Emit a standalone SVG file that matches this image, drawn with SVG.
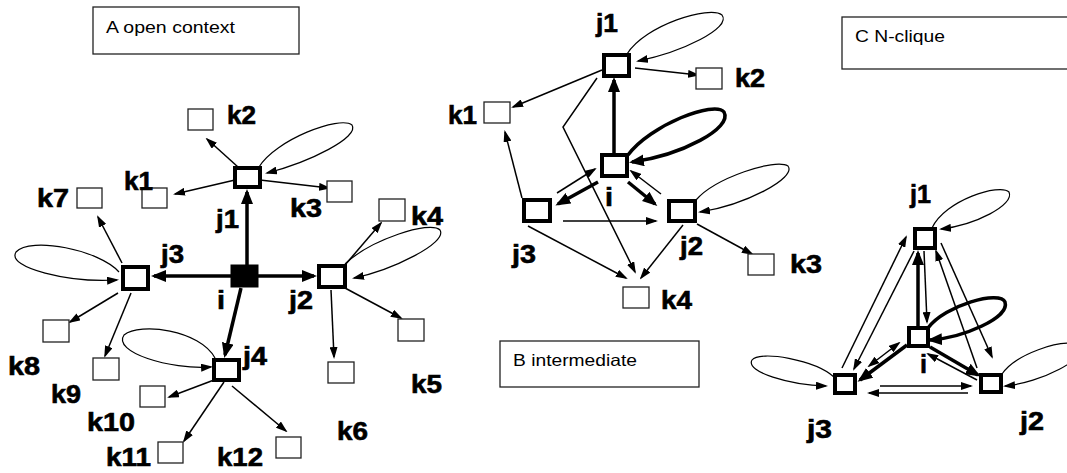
<svg xmlns="http://www.w3.org/2000/svg" width="1067" height="473" viewBox="0 0 1067 473">
<style>
.n{fill:#fff;stroke:#000;stroke-width:4}
.f{fill:#000;stroke:#000;stroke-width:1}
.k{fill:#fff;stroke:#222;stroke-width:1.3}
.t{fill:#fff;stroke:#222;stroke-width:1.3}
.e{fill:none;stroke:#000;stroke-width:1.5;marker-end:url(#m)}
.E{fill:none;stroke:#000;stroke-width:3.5;marker-end:url(#M)}
.l{fill:none;stroke:#000;stroke-width:1.2;marker-end:url(#m)}
.L{fill:none;stroke:#000;stroke-width:3.5;marker-end:url(#M)}
.d{marker-start:url(#m)}
.lb{font-family:"Liberation Sans",Arial,Helvetica,sans-serif;font-weight:bold;font-size:25px;fill:#000;stroke:#000;stroke-width:0.6}
.tt{font-family:"Liberation Sans",Arial,Helvetica,sans-serif;font-size:16.5px;fill:#000}
</style>
<defs>
<marker id="m" markerUnits="userSpaceOnUse" viewBox="0 0 12 8" markerWidth="12" markerHeight="8" refX="10" refY="4" orient="auto-start-reverse"><path d="M0,0 L12,4 L0,8 z" fill="#000"/></marker>
<marker id="M" markerUnits="userSpaceOnUse" viewBox="0 0 15 12" markerWidth="15" markerHeight="12" refX="12" refY="6" orient="auto"><path d="M0,0 L15,6 L0,12 z" fill="#000"/></marker>
</defs>
<rect width="1067" height="473" fill="#fff"/>

<g id="titles">
<g id="title-A"><rect class="t" x="93" y="7" width="206" height="47"/><text class="tt" x="106" y="33" textLength="129" lengthAdjust="spacingAndGlyphs">A open context</text></g>
<g id="title-B"><rect class="t" x="500" y="341" width="199" height="46"/><text class="tt" x="513" y="366" textLength="124" lengthAdjust="spacingAndGlyphs">B intermediate</text></g>
<g id="title-C"><rect class="t" x="842" y="17" width="260" height="52"/><text class="tt" x="855" y="42" textLength="90" lengthAdjust="spacingAndGlyphs">C N-clique</text></g>
</g>

<g id="connectors">
<!-- Panel A -->
<path class="E" d="M247,265 L247,192"/>
<path class="E" d="M231,276 L154,276"/>
<path class="E" d="M258,276 L314,276"/>
<path class="E" d="M241,288 L225,355"/>
<path class="e" d="M238,167 L207,139"/>
<path class="e" d="M235,180 L175,194"/>
<path class="e" d="M260,180 L329,188"/>
<path class="e" d="M122,263 L98,217"/>
<path class="e" d="M118,293 L70,322"/>
<path class="e" d="M131,293 L105,356"/>
<path class="e" d="M214,380 L169,397"/>
<path class="e" d="M224,382 L184,441"/>
<path class="e" d="M232,386 L286,431"/>
<path class="e" d="M331,290 L334,357"/>
<path class="e" d="M345,288 L401,318"/>
<path class="e" d="M345,265 L381,223"/>
<path class="l" d="M259,167 C275,140 340,115 352,125 C360,137 310,162 267,173"/>
<path class="l" d="M345,264 C370,240 430,220 440,230 C448,243 392,270 354,278"/>
<path class="l" d="M119,272 C100,250 30,236 16,252 C6,268 70,283 117,280"/>
<path class="l" d="M215,358 C200,330 140,322 124,335 C112,352 170,370 211,367"/>
<!-- Panel B -->
<path class="E" d="M614,155 L614,80"/>
<path class="L" d="M628,155 C650,125 715,100 724,112 C733,128 682,155 632,162"/>
<path class="e" d="M635,68 L698,75"/>
<path class="e" d="M602,70 L513,107"/>
<path class="e" d="M597,78 L563,127 L635,272"/>
<path class="e" d="M522,198 L505,132"/>
<path class="e" d="M557,193 L595,169"/>
<path class="E" d="M598,182 L558,204"/>
<path class="E" d="M628,182 L655,204"/>
<path class="e" d="M661,194 L631,171"/>
<path class="e" d="M563,221 L656,221"/>
<path class="e" d="M528,226 L626,278"/>
<path class="e" d="M683,225 L641,278"/>
<path class="e" d="M697,224 L752,254"/>
<path class="l" d="M627,54 C645,25 710,5 722,15 C732,28 682,52 638,61"/>
<path class="l" d="M696,200 C715,178 775,158 788,166 C797,178 745,205 700,212"/>
<!-- Panel C -->
<path class="e" d="M842,368 L906,237"/>
<path class="e" d="M914,251 L854,369"/>
<path class="E" d="M918,326 L918,253"/>
<path class="e" d="M924,251 L927,322"/>
<path class="e" d="M941,243 L992,357"/>
<path class="e" d="M977,368 L936,251"/>
<path class="E" d="M907,345 L860,380"/>
<path class="e d" d="M869,366 L899,343"/>
<path class="E" d="M930,347 L978,375"/>
<path class="e" d="M977,380 L928,354"/>
<path class="e" d="M880,386 L971,386"/>
<path class="e" d="M968,393 L869,393"/>
<path class="l" d="M932,228 C945,200 1000,183 1009,192 C1015,205 975,225 941,229"/>
<path class="L" d="M928,328 C945,305 1000,290 1005,302 C1010,318 962,338 930,340"/>
<path class="l" d="M1002,374 C1015,355 1060,338 1080,345 C1090,358 1040,383 1005,386"/>
<path class="l" d="M834,377 C815,360 760,350 752,360 C745,372 790,385 826,386"/>
</g>

<g id="A-i"><rect class="f" x="231" y="265" width="27" height="22"/><text class="lb" x="217" y="309" textLength="8" lengthAdjust="spacingAndGlyphs">i</text></g>
<g id="A-j1"><rect class="n" x="235" y="168" width="25" height="19"/><text class="lb" x="216" y="228" textLength="23" lengthAdjust="spacingAndGlyphs">j1</text></g>
<g id="A-j2"><rect class="n" x="319" y="266" width="26" height="21"/><text class="lb" x="289" y="309" textLength="24" lengthAdjust="spacingAndGlyphs">j2</text></g>
<g id="A-j3"><rect class="n" x="123" y="267" width="25" height="22"/><text class="lb" x="161" y="263" textLength="23" lengthAdjust="spacingAndGlyphs">j3</text></g>
<g id="A-j4"><rect class="n" x="214" y="360" width="25" height="20"/><text class="lb" x="243" y="365" textLength="24" lengthAdjust="spacingAndGlyphs">j4</text></g>
<g id="A-k1"><rect class="k" x="142" y="188" width="25" height="20"/><text class="lb" x="124" y="190" textLength="29" lengthAdjust="spacingAndGlyphs">k1</text></g>
<g id="A-k2"><rect class="k" x="188" y="109" width="25" height="21"/><text class="lb" x="227" y="124" textLength="29" lengthAdjust="spacingAndGlyphs">k2</text></g>
<g id="A-k3"><rect class="k" x="327" y="181" width="25" height="21"/><text class="lb" x="290" y="217" textLength="32" lengthAdjust="spacingAndGlyphs">k3</text></g>
<g id="A-k4"><rect class="k" x="379" y="199" width="26" height="22"/><text class="lb" x="411" y="225" textLength="32" lengthAdjust="spacingAndGlyphs">k4</text></g>
<g id="A-k5"><rect class="k" x="398" y="319" width="26" height="22"/><text class="lb" x="411" y="393" textLength="31" lengthAdjust="spacingAndGlyphs">k5</text></g>
<g id="A-k6"><rect class="k" x="328" y="362" width="26" height="21"/><text class="lb" x="337" y="440" textLength="31" lengthAdjust="spacingAndGlyphs">k6</text></g>
<g id="A-k7"><rect class="k" x="77" y="188" width="25" height="20"/><text class="lb" x="37" y="207" textLength="32" lengthAdjust="spacingAndGlyphs">k7</text></g>
<g id="A-k8"><rect class="k" x="43" y="320" width="26" height="22"/><text class="lb" x="8" y="375" textLength="32" lengthAdjust="spacingAndGlyphs">k8</text></g>
<g id="A-k9"><rect class="k" x="93" y="358" width="26" height="22"/><text class="lb" x="51" y="403" textLength="30" lengthAdjust="spacingAndGlyphs">k9</text></g>
<g id="A-k10"><rect class="k" x="140" y="386" width="25" height="21"/><text class="lb" x="87" y="431" textLength="48" lengthAdjust="spacingAndGlyphs">k10</text></g>
<g id="A-k11"><rect class="k" x="158" y="442" width="25" height="21"/><text class="lb" x="106" y="466" textLength="45" lengthAdjust="spacingAndGlyphs">k11</text></g>
<g id="A-k12"><rect class="k" x="276" y="437" width="25" height="21"/><text class="lb" x="217" y="466" textLength="46" lengthAdjust="spacingAndGlyphs">k12</text></g>

<g id="B-i"><rect class="n" x="602" y="155" width="25" height="21"/><text class="lb" x="605" y="206" textLength="8" lengthAdjust="spacingAndGlyphs">i</text></g>
<g id="B-j1"><rect class="n" x="604" y="55" width="25" height="21"/><text class="lb" x="596" y="32" textLength="22" lengthAdjust="spacingAndGlyphs">j1</text></g>
<g id="B-j2"><rect class="n" x="669" y="201" width="26" height="20"/><text class="lb" x="680" y="255" textLength="23" lengthAdjust="spacingAndGlyphs">j2</text></g>
<g id="B-j3"><rect class="n" x="524" y="200" width="26" height="21"/><text class="lb" x="512" y="263" textLength="24" lengthAdjust="spacingAndGlyphs">j3</text></g>
<g id="B-k1"><rect class="k" x="484" y="102" width="26" height="21"/><text class="lb" x="448" y="124" textLength="29" lengthAdjust="spacingAndGlyphs">k1</text></g>
<g id="B-k2"><rect class="k" x="696" y="68" width="26" height="21"/><text class="lb" x="735" y="87" textLength="30" lengthAdjust="spacingAndGlyphs">k2</text></g>
<g id="B-k3"><rect class="k" x="748" y="254" width="26" height="21"/><text class="lb" x="790" y="273" textLength="32" lengthAdjust="spacingAndGlyphs">k3</text></g>
<g id="B-k4"><rect class="k" x="623" y="287" width="26" height="21"/><text class="lb" x="661" y="309" textLength="31" lengthAdjust="spacingAndGlyphs">k4</text></g>

<g id="C-i"><rect class="n" x="909" y="328" width="19" height="18"/><text class="lb" x="920" y="373" textLength="7" lengthAdjust="spacingAndGlyphs">i</text></g>
<g id="C-j1"><rect class="n" x="915" y="229" width="20" height="19"/><text class="lb" x="910" y="203" textLength="21" lengthAdjust="spacingAndGlyphs">j1</text></g>
<g id="C-j2"><rect class="n" x="981" y="375" width="20" height="17"/><text class="lb" x="1020" y="430" textLength="24" lengthAdjust="spacingAndGlyphs">j2</text></g>
<g id="C-j3"><rect class="n" x="835" y="375" width="20" height="18"/><text class="lb" x="807" y="438" textLength="25" lengthAdjust="spacingAndGlyphs">j3</text></g>
</svg>
